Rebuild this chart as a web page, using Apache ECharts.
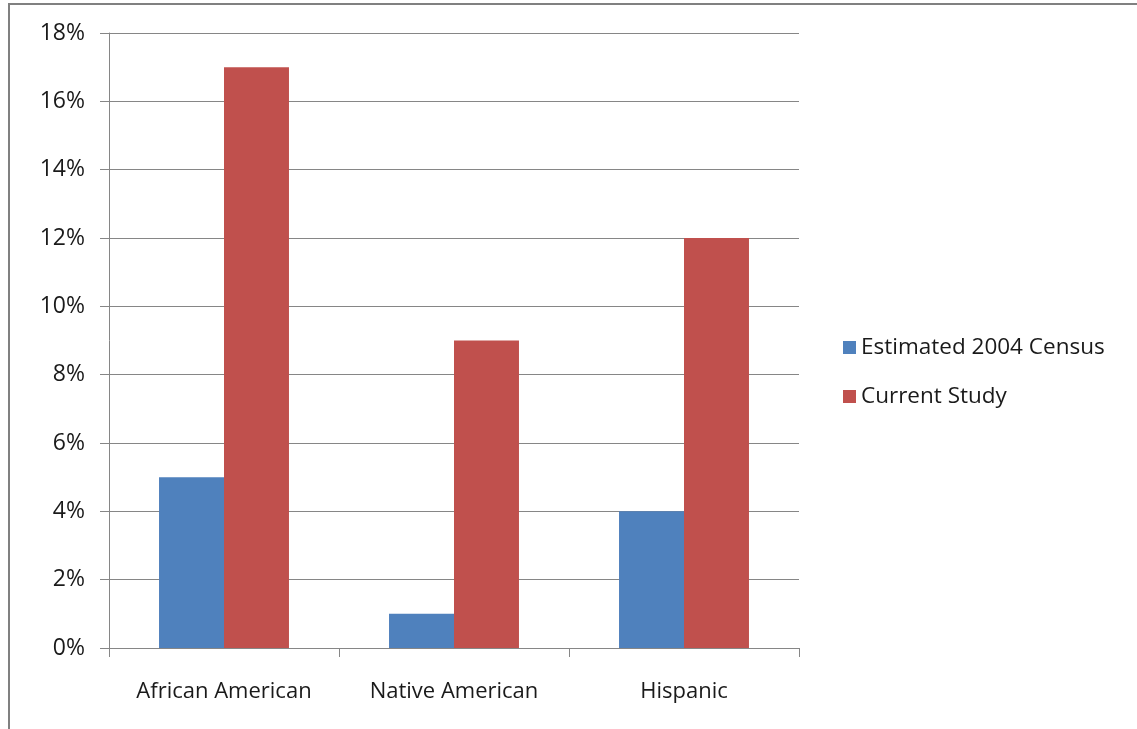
<!DOCTYPE html>
<html>
<head>
<meta charset="utf-8">
<script src="https://cdn.jsdelivr.net/npm/echarts@6/dist/echarts.min.js"></script>
<style>
  html, body { margin: 0; padding: 0; background: #fff; }
  #frame { position: absolute; left: 8px; top: 3px; width: 1140px; height: 740px;
           border-left: 2px solid #808080; border-top: 2px solid #808080; }
  #myChart { position: absolute; left: 0; top: 0; width: 1137px; height: 729px; }
</style>
</head>
<body>
<div id="frame"></div>
<div id="myChart"></div>
<script>
// 数据
const categories = ['African American', 'Native American', 'Hispanic'];
const census2004 = [5, 1, 4];
const currentStudy = [17, 9, 12];
const yTicks = [0, 2, 4, 6, 8, 10, 12, 14, 16, 18];

const font = 'Open Sans';
let myChart = echarts.init(document.getElementById('myChart'));
myChart.setOption({
  animation: false,
  textStyle: { fontFamily: font },
  grid: { left: 109, right: 338, top: 33, bottom: 81, containLabel: false },
  legend: {
    orient: 'vertical', left: 838, top: 331,
    itemWidth: 13, itemHeight: 13, itemGap: 26,
    icon: 'rect',
    textStyle: { fontFamily: font, fontSize: 22.5, color: '#1a1a1a' },
    data: ['Estimated 2004 Census', 'Current Study']
  },
  xAxis: {
    type: 'category',
    data: categories,
    boundaryGap: true,
    axisLine: { lineStyle: { color: '#868686', width: 1 } },
    axisTick: { show: true, length: 9, lineStyle: { color: '#868686' } },
    axisLabel: { fontFamily: font, fontSize: 22, color: '#1a1a1a', margin: 33 }
  },
  yAxis: {
    type: 'value',
    min: yTicks[0], max: yTicks[yTicks.length - 1], interval: 2,
    axisLine: { show: true, lineStyle: { color: '#868686', width: 1 } },
    axisTick: { show: true, length: 9, lineStyle: { color: '#868686' } },
    splitLine: { lineStyle: { color: '#868686', width: 1 } },
    axisLabel: { fontFamily: font, fontSize: 23, color: '#1a1a1a', margin: 24,
                 formatter: v => v + '%' }
  },
  series: [
    { name: 'Estimated 2004 Census', type: 'bar', data: census2004,
      barGap: '0%', barCategoryGap: '43.5%', itemStyle: { color: '#4F81BD' } },
    { name: 'Current Study', type: 'bar', data: currentStudy,
      barGap: '0%', barCategoryGap: '43.5%', itemStyle: { color: '#C0504D' } }
  ]
});
</script>
</body>
</html>
